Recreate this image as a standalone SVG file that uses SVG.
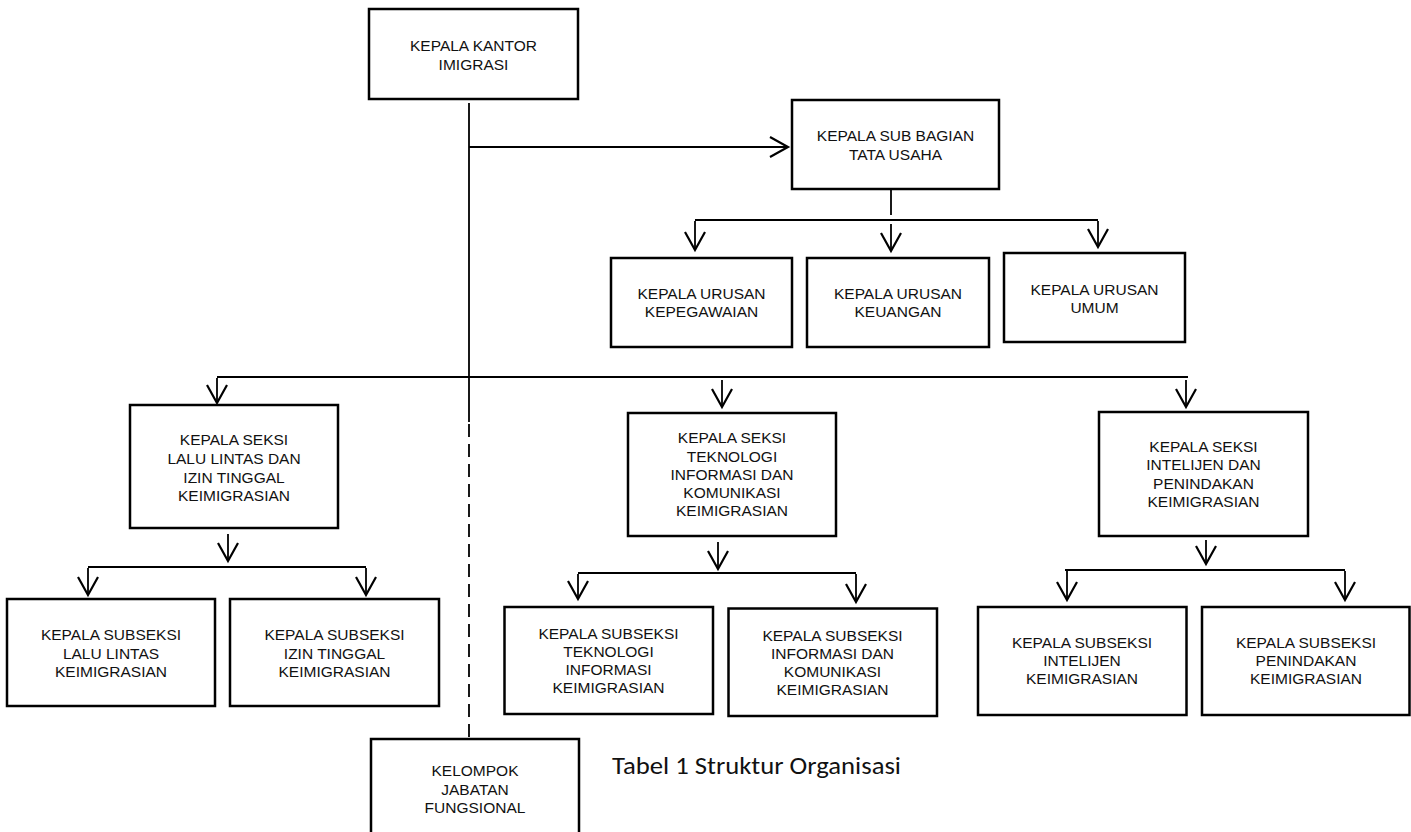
<svg xmlns="http://www.w3.org/2000/svg" width="1411" height="832" viewBox="0 0 1411 832">
<defs>
<style>
.box{fill:#fff;stroke:#000;stroke-width:2.5}
.t{font-family:"Liberation Sans",Arial,sans-serif;font-size:15.5px;fill:#111;text-anchor:middle}
.ln{fill:none;stroke:#000;stroke-width:1.8}
.ar{fill:none;stroke:#000;stroke-width:1.8;marker-end:url(#ah)}
.dash{fill:none;stroke:#000;stroke-width:1.8;stroke-dasharray:13 7}
.cap{font-family:Carlito,Lato,"Open Sans",sans-serif;font-size:25px;fill:#111}
</style>
<marker id="ah" viewBox="-20 -12 24 24" markerWidth="24" markerHeight="24" refX="0" refY="0" markerUnits="userSpaceOnUse" orient="auto">
<path d="M-18,-10 L0,0 L-18,10" fill="none" stroke="#000" stroke-width="2.2"/>
</marker>
</defs>
<rect width="1411" height="832" fill="#fff"/>
<g id="connectors">
<line class="ln" x1="469" y1="103" x2="469" y2="422"/>
<line class="dash" x1="469" y1="424" x2="469" y2="739"/>
<line class="ar" x1="469" y1="147" x2="788" y2="147"/>
<line class="ln" x1="891" y1="190" x2="891" y2="215"/>
<line class="ln" x1="695" y1="220" x2="1098" y2="220"/>
<line class="ar" x1="695" y1="221" x2="695" y2="250"/>
<line class="ar" x1="891" y1="224" x2="891" y2="251"/>
<line class="ar" x1="1098" y1="221" x2="1098" y2="247"/>
<line class="ln" x1="217" y1="377" x2="1188" y2="377"/>
<line class="ar" x1="217" y1="378" x2="217" y2="403"/>
<line class="ar" x1="722" y1="380" x2="722" y2="407"/>
<line class="ar" x1="1186" y1="380" x2="1186" y2="407"/>
<line class="ar" x1="228" y1="534" x2="228" y2="561"/>
<line class="ln" x1="88" y1="567" x2="366" y2="567"/>
<line class="ar" x1="88" y1="568" x2="88" y2="595"/>
<line class="ar" x1="366" y1="568" x2="366" y2="595"/>
<line class="ar" x1="718" y1="542" x2="718" y2="569"/>
<line class="ln" x1="578" y1="573" x2="856" y2="573"/>
<line class="ar" x1="578" y1="574" x2="578" y2="599"/>
<line class="ar" x1="856" y1="574" x2="856" y2="602"/>
<line class="ar" x1="1206" y1="540" x2="1206" y2="564"/>
<line class="ln" x1="1065" y1="570" x2="1345" y2="570"/>
<line class="ar" x1="1067" y1="571" x2="1067" y2="600"/>
<line class="ar" x1="1345" y1="571" x2="1345" y2="600"/>
</g>
<g id="kepala-kantor">
<rect class="box" x="369" y="9" width="209" height="90"/>
<text class="t" x="473.5" y="51">KEPALA KANTOR</text>
<text class="t" x="473.5" y="70">IMIGRASI</text>
</g>
<g id="sub-bagian">
<rect class="box" x="792" y="100" width="207" height="89"/>
<text class="t" x="895.5" y="141">KEPALA SUB BAGIAN</text>
<text class="t" x="895.5" y="160">TATA USAHA</text>
</g>
<g id="urusan-kepegawaian">
<rect class="box" x="611" y="258" width="181" height="89"/>
<text class="t" x="701.5" y="299">KEPALA URUSAN</text>
<text class="t" x="701.5" y="317">KEPEGAWAIAN</text>
</g>
<g id="urusan-keuangan">
<rect class="box" x="807" y="258" width="182" height="89"/>
<text class="t" x="898" y="299">KEPALA URUSAN</text>
<text class="t" x="898" y="317">KEUANGAN</text>
</g>
<g id="urusan-umum">
<rect class="box" x="1004" y="253" width="181" height="89"/>
<text class="t" x="1094.5" y="295">KEPALA URUSAN</text>
<text class="t" x="1094.5" y="313">UMUM</text>
</g>
<g id="seksi-lalu-lintas">
<rect class="box" x="130" y="405" width="208" height="123"/>
<text class="t" x="234" y="445">KEPALA SEKSI</text>
<text class="t" x="234" y="464">LALU LINTAS DAN</text>
<text class="t" x="234" y="482.5">IZIN TINGGAL</text>
<text class="t" x="234" y="501">KEIMIGRASIAN</text>
</g>
<g id="seksi-tik">
<rect class="box" x="628" y="413" width="208" height="123"/>
<text class="t" x="732" y="443">KEPALA SEKSI</text>
<text class="t" x="732" y="461.5">TEKNOLOGI</text>
<text class="t" x="732" y="480">INFORMASI DAN</text>
<text class="t" x="732" y="498">KOMUNIKASI</text>
<text class="t" x="732" y="516">KEIMIGRASIAN</text>
</g>
<g id="seksi-intelijen">
<rect class="box" x="1099" y="412" width="209" height="124"/>
<text class="t" x="1203.5" y="451.5">KEPALA SEKSI</text>
<text class="t" x="1203.5" y="470">INTELIJEN DAN</text>
<text class="t" x="1203.5" y="488.5">PENINDAKAN</text>
<text class="t" x="1203.5" y="507">KEIMIGRASIAN</text>
</g>
<g id="subseksi-lalu-lintas">
<rect class="box" x="7" y="599" width="208" height="107"/>
<text class="t" x="111" y="640">KEPALA SUBSEKSI</text>
<text class="t" x="111" y="658.5">LALU LINTAS</text>
<text class="t" x="111" y="677">KEIMIGRASIAN</text>
</g>
<g id="subseksi-izin-tinggal">
<rect class="box" x="230" y="599" width="209" height="107"/>
<text class="t" x="334.5" y="640">KEPALA SUBSEKSI</text>
<text class="t" x="334.5" y="658.5">IZIN TINGGAL</text>
<text class="t" x="334.5" y="677">KEIMIGRASIAN</text>
</g>
<g id="subseksi-teknologi">
<rect class="box" x="504.5" y="607" width="208.5" height="107"/>
<text class="t" x="608.5" y="638.5">KEPALA SUBSEKSI</text>
<text class="t" x="608.5" y="656.5">TEKNOLOGI</text>
<text class="t" x="608.5" y="674.5">INFORMASI</text>
<text class="t" x="608.5" y="693">KEIMIGRASIAN</text>
</g>
<g id="subseksi-infokom">
<rect class="box" x="728.5" y="608.5" width="208.5" height="107.5"/>
<text class="t" x="832.5" y="641">KEPALA SUBSEKSI</text>
<text class="t" x="832.5" y="659">INFORMASI DAN</text>
<text class="t" x="832.5" y="677">KOMUNIKASI</text>
<text class="t" x="832.5" y="695">KEIMIGRASIAN</text>
</g>
<g id="subseksi-intelijen">
<rect class="box" x="978" y="607" width="208.5" height="108"/>
<text class="t" x="1082" y="647.5">KEPALA SUBSEKSI</text>
<text class="t" x="1082" y="665.5">INTELIJEN</text>
<text class="t" x="1082" y="684">KEIMIGRASIAN</text>
</g>
<g id="subseksi-penindakan">
<rect class="box" x="1202" y="607" width="207.5" height="108"/>
<text class="t" x="1306" y="647.5">KEPALA SUBSEKSI</text>
<text class="t" x="1306" y="665.5">PENINDAKAN</text>
<text class="t" x="1306" y="684">KEIMIGRASIAN</text>
</g>
<g id="kelompok-jabatan">
<rect class="box" x="371" y="739" width="208" height="115"/>
<text class="t" x="475" y="776">KELOMPOK</text>
<text class="t" x="475" y="794.5">JABATAN</text>
<text class="t" x="475" y="813">FUNGSIONAL</text>
</g>
<g id="caption">
<text class="cap" x="612" y="774" textLength="289" lengthAdjust="spacingAndGlyphs">Tabel 1 Struktur Organisasi</text>
</g>
</svg>
